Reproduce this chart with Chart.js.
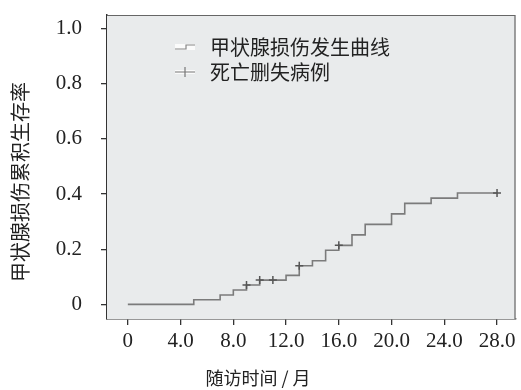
<!DOCTYPE html>
<html>
<head>
<meta charset="utf-8">
<script src="https://cdn.jsdelivr.net/npm/chart.js@4.4.1/dist/chart.umd.min.js"></script>
<style>
    html, body { margin: 0; padding: 0; background: #fff; }
    #wrap { width: 521px; height: 390px; }
</style>
</head>
<body>
<div id="wrap"><canvas id="chartCanvas" width="521" height="390"></canvas></div>
<script>
// 累积发生率（阶梯函数）数据
const eventTimes = [0, 5, 7, 8, 9, 10, 12, 13, 14, 15, 16, 17, 18, 20, 21, 23, 25, 28];
const cumIncidence = [0, 0.017, 0.034, 0.052, 0.070, 0.088, 0.105, 0.140, 0.158, 0.196, 0.214, 0.252, 0.290, 0.328, 0.366, 0.385, 0.404, 0.404];
// 删失病例时间点
const censorTimes = [9, 10, 11, 13, 16, 28];
// 刻度
const xTickValues = [0, 4, 8, 12, 16, 20, 24, 28];
const xTickLabels = ['0', '4.0', '8.0', '12.0', '16.0', '20.0', '24.0', '28.0'];
const yTickValues = [0, 0.2, 0.4, 0.6, 0.8, 1.0];
const yTickLabels = ['0', '0.2', '0.4', '0.6', '0.8', '1.0'];
// 文字
const legendLabels = ['甲状腺损伤发生曲线', '死亡删失病例'];
const xTitle = '随访时间 / 月';
const yTitle = '甲状腺损伤累积生存率';

// 取某时间点的曲线值
function levelAt(t) {
    let v = 0;
    eventTimes.forEach((et, i) => { if (et <= t) v = cumIncidence[i]; });
    return v;
}

const curvePoints = eventTimes.map((t, i) => ({ x: t, y: cumIncidence[i] }));
const censorPoints = censorTimes.map(t => ({ x: t, y: levelAt(t) }));

const serif = '"Liberation Serif", "DejaVu Serif", serif';
const cjk = '"Noto Sans CJK SC", sans-serif';

// 绘图区背景、边框、图例和坐标轴标题
const decor = {
    id: 'decor',
    beforeDatasetsDraw(chart) {
        const { ctx, chartArea: a } = chart;
        ctx.save();
        ctx.fillStyle = '#e9ebec';
        ctx.fillRect(a.left, a.top, a.right - a.left, a.bottom - a.top);
        ctx.restore();
    },
    afterDraw(chart) {
        const { ctx, chartArea: a } = chart;
        ctx.save();
        // 边框
        ctx.strokeStyle = '#666';
        ctx.lineWidth = 1.2;
        ctx.beginPath();
        ctx.moveTo(a.left, a.top + 0.5);
        ctx.lineTo(a.right - 0.5, a.top + 0.5);
        ctx.lineTo(a.right - 0.5, a.bottom);
        ctx.stroke();

        // 图例
        const lx = 175, ly1 = 47, ly2 = 72;
        ctx.fillStyle = '#fbfbfb';
        ctx.fillRect(lx, ly1 - 3, 20, 6);
        ctx.strokeStyle = '#888';
        ctx.lineWidth = 1.2;
        ctx.beginPath();
        ctx.moveTo(lx, ly1 + 2);
        ctx.lineTo(lx + 11, ly1 + 2);
        ctx.lineTo(lx + 11, ly1 - 2);
        ctx.lineTo(lx + 20, ly1 - 2);
        ctx.stroke();
        ctx.fillRect(lx, ly2 - 2, 20, 4);
        ctx.strokeStyle = '#777';
        ctx.beginPath();
        ctx.moveTo(lx, ly2);
        ctx.lineTo(lx + 20, ly2);
        ctx.moveTo(lx + 10, ly2 - 5);
        ctx.lineTo(lx + 10, ly2 + 5);
        ctx.stroke();

        ctx.fillStyle = '#222';
        ctx.font = '20px ' + cjk;
        ctx.textAlign = 'left';
        ctx.textBaseline = 'middle';
        ctx.fillText(legendLabels[0], 210, ly1);
        ctx.fillText(legendLabels[1], 210, ly2);

        // 坐标轴标题
        ctx.font = '18px ' + cjk;
        ctx.textAlign = 'center';
        ctx.fillText(xTitle, 258, 378);
        ctx.translate(20, 182);
        ctx.rotate(-Math.PI / 2);
        ctx.font = '20px ' + cjk;
        ctx.fillText(yTitle, 0, 0);
        ctx.restore();
    }
};

const ctx = document.getElementById('chartCanvas').getContext('2d');
const myChart = new Chart(ctx, {
    type: 'scatter',
    data: {
        datasets: [{
            label: legendLabels[0],
            data: curvePoints,
            showLine: true,
            stepped: 'before',
            borderColor: '#7b7b7b',
            borderWidth: 1.6,
            pointRadius: 0,
            order: 2
        }, {
            label: legendLabels[1],
            data: censorPoints,
            showLine: false,
            pointStyle: 'cross',
            pointRadius: 4,
            borderColor: '#555',
            borderWidth: 1.5,
            order: 1
        }]
    },
    options: {
        responsive: false,
        animation: false,
        layout: { padding: { top: 15, right: 2, left: 0, bottom: 0 } },
        plugins: {
            legend: { display: false },
            tooltip: { enabled: false }
        },
        scales: {
            x: {
                type: 'linear',
                min: -1.58,
                max: 29.4,
                afterBuildTicks: (s) => { s.ticks = xTickValues.map(v => ({ value: v })); },
                afterFit: (s) => { s.height = 71; s.paddingLeft = 0; s.paddingRight = 0; },
                grid: { drawOnChartArea: false, drawTicks: true, tickLength: 6, color: '#333', lineWidth: 1.3 },
                border: { display: true, color: '#333', width: 1.5 },
                ticks: {
                    color: '#222',
                    font: { family: serif, size: 21 },
                    padding: 4,
                    maxRotation: 0,
                    callback: (v) => xTickLabels[xTickValues.indexOf(v)]
                }
            },
            y: {
                type: 'linear',
                min: -0.053,
                max: 1.049,
                afterBuildTicks: (s) => { s.ticks = yTickValues.map(v => ({ value: v })); },
                afterFit: (s) => { s.width = 107; s.paddingTop = 0; s.paddingBottom = 0; },
                grid: { drawOnChartArea: false, drawTicks: true, tickLength: 6, color: '#333', lineWidth: 1.3 },
                border: { display: true, color: '#333', width: 1.5 },
                ticks: {
                    color: '#222',
                    font: { family: serif, size: 21 },
                    padding: 19,
                    callback: (v) => yTickLabels[yTickValues.indexOf(v)]
                }
            }
        }
    },
    plugins: [decor]
});
</script>
</body>
</html>
